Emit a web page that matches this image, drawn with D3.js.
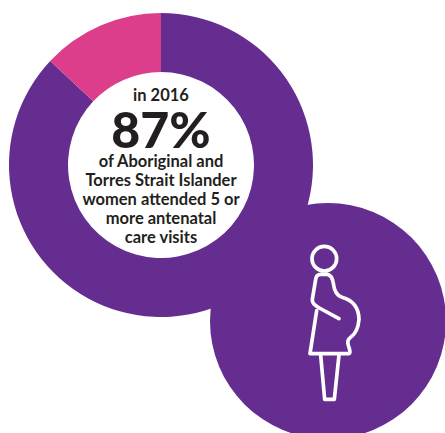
<!DOCTYPE html>
<html>
<head>
<meta charset="utf-8">
<style>
html,body{margin:0;padding:0;background:#fff;overflow:hidden}
svg{display:block}
text{font-family:Lato,"Open Sans",sans-serif;font-weight:700;fill:#231f20;text-anchor:middle}
</style>
<script src="https://cdn.jsdelivr.net/npm/d3@7/dist/d3.min.js"></script>
</head>
<body>
<script>
const categories = ["Attended 5 or more visits", "Other"];
const shares = [87, 13];
const sliceColors = ["#652d90", "#dc3e8c"];
const yearLine = "in 2016";
const headline = "87%";
const captionLines = [
  "of Aboriginal and",
  "Torres Strait Islander",
  "women attended 5 or",
  "more antenatal",
  "care visits"
];

const width = 445, height = 433;
const svg = d3.select("body").append("svg")
  .attr("width", width).attr("height", height)
  .attr("viewBox", [0, 0, width, height]);

// Badge circle sits behind the ring and holds the figure
svg.append("circle").attr("cx", 328).attr("cy", 321).attr("r", 118).attr("fill", sliceColors[0]);

// Ring
const ring = svg.append("g").attr("transform", "translate(161,165)");
const pie = d3.pie().sort(null)(shares);
const arc = d3.arc().innerRadius(93).outerRadius(152);
ring.selectAll("path").data(pie).join("path")
  .attr("d", arc)
  .attr("fill", (d, i) => sliceColors[i])
  .append("title").text((d, i) => categories[i]);

// Centre text
ring.append("text").attr("y", -64).style("font-size", "16.5px").text(yearLine);
ring.append("text").attr("y", -17).style("font-size", "50px").style("font-weight", 900).text(headline);
const lineY = d3.scalePoint().domain(captionLines).range([2, 78]);
ring.selectAll("text.caption").data(captionLines).join("text")
  .attr("class", "caption")
  .attr("y", d => lineY(d))
  .style("font-size", "16.5px")
  .text(d => d);

// Pregnant woman outline
const figure = svg.append("g")
  .attr("transform", "translate(280,220) scale(0.3333)")
  .attr("fill", "none").attr("stroke", "#fff")
  .attr("stroke-width", 11).attr("stroke-linejoin", "round").attr("stroke-linecap", "round");
figure.append("circle").attr("cx", 133).attr("cy", 116).attr("r", 37);
figure.append("path").attr("d",
  "M177,296 L118,264 Q95,252 97,238 L107,178 Q109,163 122,163 L142,163 Q156,165 160,190 " +
  "Q164,226 186,232 Q236,246 237,298 Q234,336 212,352 Q200,360 205,376 Q214,400 206,401 " +
  "L90,401 L110,272");
figure.append("path").attr("d", "M122,405 L134,538 L163,538 L177,405");
</script>
</body>
</html>
